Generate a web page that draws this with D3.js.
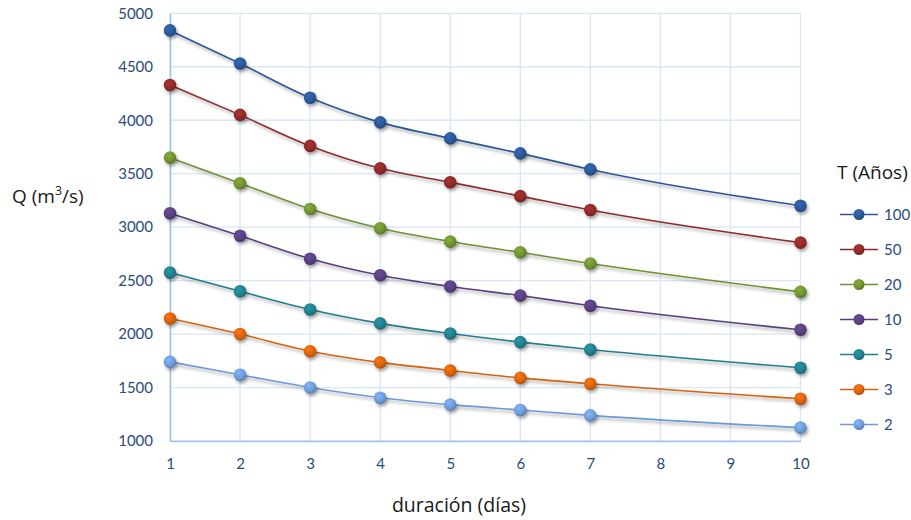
<!DOCTYPE html>
<html><head><meta charset="utf-8">
<script src="https://cdn.jsdelivr.net/npm/d3@7"></script>
<style>body{margin:0;background:#fff;} svg{display:block;font-family:Lato,"Open Sans",sans-serif;}</style>
</head><body><svg id="c" width="911" height="520"></svg>
<script>
const durations = [1,2,3,4,5,6,7,10];
const periods = ["100","50","20","10","5","3","2"];
const q100 = [4840,4530,4210,3980,3830,3690,3540,3200];
const q50  = [4330,4050,3760,3550,3420,3290,3160,2855];
const q20  = [3650,3410,3170,2990,2865,2765,2660,2395];
const q10  = [3130,2920,2705,2550,2445,2360,2265,2040];
const q5   = [2575,2400,2230,2100,2005,1925,1855,1685];
const q3   = [2145,2000,1840,1735,1660,1590,1535,1395];
const q2   = [1740,1620,1500,1405,1340,1290,1240,1125];
const seriesValues = [q100,q50,q20,q10,q5,q3,q2];
const xTicks = [1,2,3,4,5,6,7,8,9,10];
const yTicks = [1000,1500,2000,2500,3000,3500,4000,4500,5000];
const colors = ["#2B5797","#8E2A2A","#6F9130","#58407F","#217E8C","#D5620F","#6C9AD6"];

const svg = d3.select("#c");
const x = d3.scaleLinear().domain([1,10]).range([170,800.5]);
const y = d3.scaleLinear().domain([1000,5000]).range([441,13.3]);

const defs = svg.append("defs");
const f = defs.append("filter").attr("id","sh").attr("x","-20%").attr("y","-20%").attr("width","140%").attr("height","160%");
f.append("feDropShadow").attr("dx",1.5).attr("dy",2.5).attr("stdDeviation",1.8).attr("flood-color","#000").attr("flood-opacity",0.35);
colors.forEach((c,i)=>{
  const g = defs.append("radialGradient").attr("id","g"+i).attr("cx","40%").attr("cy","35%").attr("r","65%");
  g.append("stop").attr("offset","0%").attr("stop-color",d3.color(c).brighter(0.5));
  g.append("stop").attr("offset","70%").attr("stop-color",c);
  g.append("stop").attr("offset","100%").attr("stop-color",d3.color(c).darker(0.6));
});

// grid
svg.append("g").selectAll("line").data(yTicks).join("line")
  .attr("x1",x(1)).attr("x2",x(10)).attr("y1",d=>y(d)).attr("y2",d=>y(d))
  .attr("stroke","#D9E6F6").attr("stroke-width",1.3);
svg.append("g").selectAll("line").data(xTicks).join("line")
  .attr("x1",d=>x(d)).attr("x2",d=>x(d)).attr("y1",y(5000)).attr("y2",y(1000))
  .attr("stroke","#D9E6F6").attr("stroke-width",1.3);

// axes
const xAxis = svg.append("g").attr("transform",`translate(0,${y(1000)})`)
  .call(d3.axisBottom(x).tickValues(xTicks).tickSize(0).tickPadding(17).tickFormat(d3.format("d")));
const yAxis = svg.append("g").attr("transform",`translate(${x(1)},0)`)
  .call(d3.axisLeft(y).tickValues(yTicks).tickSize(0).tickPadding(17).tickFormat(d3.format("d")));
[xAxis,yAxis].forEach(a=>{
  a.select(".domain").attr("stroke","#9DC3E6").attr("stroke-width",1.5);
  a.selectAll("text").attr("fill","#2A4B7C").attr("font-size",15).attr("font-family","Lato,'Open Sans',sans-serif");
});

// lines
const line = d3.line().x((d,i)=>x(durations[i])).y(d=>y(d)).curve(d3.curveMonotoneX);
const gS = svg.append("g");
seriesValues.forEach((vals,si)=>{
  gS.append("path").attr("d",line(vals)).attr("fill","none").attr("stroke",colors[si]).attr("stroke-width",1.6).attr("filter","url(#sh)");
});
seriesValues.forEach((vals,si)=>{
  gS.append("g").attr("filter","url(#sh)").selectAll("circle").data(vals).join("circle")
    .attr("cx",(d,i)=>x(durations[i])).attr("cy",d=>y(d)).attr("r",6.3)
    .attr("fill",`url(#g${si})`);
});

// titles
const tf = "'Open Sans',sans-serif";
svg.append("text").attr("x",459).attr("y",512).attr("text-anchor","middle").attr("font-family",tf).attr("font-size",19.5).attr("fill","#1a1a1a").text("duración (días)");
const qt = svg.append("text").attr("x",12).attr("y",203).attr("font-family",tf).attr("font-size",19).attr("fill","#1a1a1a");
qt.append("tspan").text("Q (m");
qt.append("tspan").attr("font-size",12.5).attr("dy",-8).text("3");
qt.append("tspan").attr("dy",8).text("/s)");
svg.append("text").attr("x",837).attr("y",179).attr("font-family",tf).attr("font-size",19).attr("fill","#1a1a1a").text("T (Años)");

// legend
const lg = svg.append("g");
periods.forEach((p,i)=>{
  const ly = 214.5 + i*35;
  lg.append("line").attr("x1",840).attr("x2",878).attr("y1",ly).attr("y2",ly).attr("stroke",colors[i]).attr("stroke-width",1.6);
  lg.append("circle").attr("cx",859).attr("cy",ly).attr("r",5.5).attr("fill",`url(#g${i})`);
  lg.append("text").attr("x",884).attr("y",ly).attr("dy","0.35em").attr("font-size",15).attr("fill","#2A4B7C").text(p);
});
</script></body></html>
